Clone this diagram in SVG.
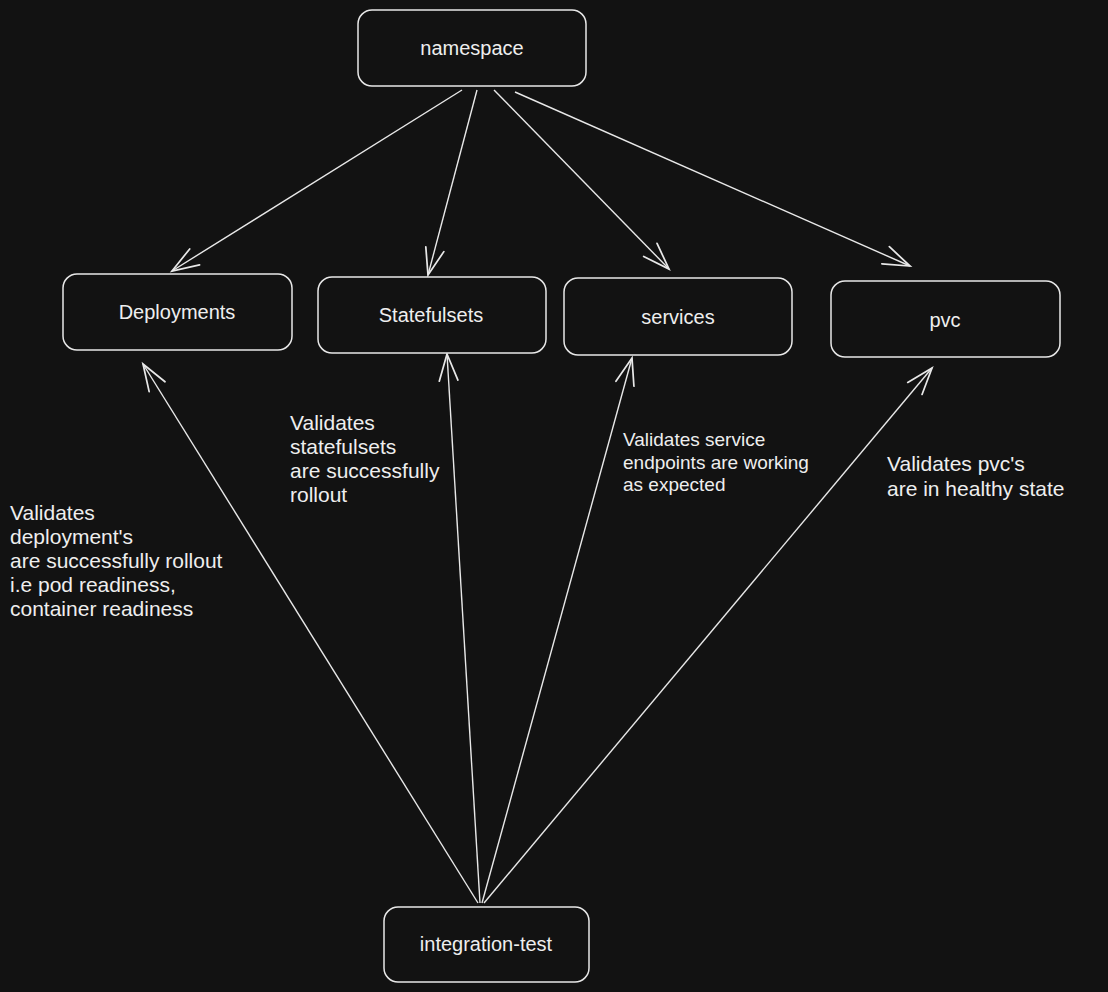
<svg xmlns="http://www.w3.org/2000/svg" width="1108" height="992" viewBox="0 0 1108 992">
<defs>
<marker id="ah" markerUnits="userSpaceOnUse" markerWidth="40" markerHeight="40" refX="0" refY="0" viewBox="-25 -15 30 30" orient="auto" overflow="visible">
<path d="M -20 -7 L 0 0 L -20 7" fill="none" stroke="#e8e8e8" stroke-width="1.3" stroke-linecap="round"/>
</marker>
</defs>
<style>
.box{fill:#121212;stroke:#e8e8e8;stroke-width:1.5}
.lbl{font-family:"Liberation Sans",Arial,sans-serif;font-size:20px;fill:#eeeeee;text-anchor:middle}
.note{font-family:"Liberation Sans",Arial,sans-serif;font-size:21px;fill:#eeeeee}
.c{stroke:#e8e8e8;stroke-width:1.4;fill:none;marker-end:url(#ah)}
</style>
<rect width="1108" height="992" fill="#121212"/>
<g id="connectors">
<line class="c" x1="462" y1="90" x2="172" y2="271"/>
<line class="c" x1="477" y1="90" x2="428" y2="275"/>
<line class="c" x1="494" y1="90" x2="669" y2="269"/>
<line class="c" x1="515" y1="92" x2="910" y2="266"/>
<line class="c" x1="478" y1="903" x2="143" y2="364"/>
<line class="c" x1="480" y1="903" x2="447" y2="354"/>
<line class="c" x1="482" y1="903" x2="632" y2="358"/>
<line class="c" x1="484" y1="903" x2="932" y2="368"/>
</g>
<g id="namespace"><rect class="box" x="358" y="10" width="228" height="76" rx="14"/><text class="lbl" x="472" y="55">namespace</text></g>
<g id="deployments"><rect class="box" x="63" y="274" width="229" height="76" rx="14"/><text class="lbl" x="177" y="319">Deployments</text></g>
<g id="statefulsets"><rect class="box" x="318" y="277" width="228" height="76" rx="14"/><text class="lbl" x="431" y="322">Statefulsets</text></g>
<g id="services"><rect class="box" x="564" y="278" width="228" height="77" rx="14"/><text class="lbl" x="678" y="324">services</text></g>
<g id="pvc"><rect class="box" x="831" y="281" width="229" height="76" rx="14"/><text class="lbl" x="945" y="327">pvc</text></g>
<g id="integration-test"><rect class="box" x="384" y="907" width="205" height="75" rx="14"/><text class="lbl" x="486" y="951">integration-test</text></g>
<g id="notes">
<text class="note" x="10" y="520">Validates</text>
<text class="note" x="10" y="544">deployment's</text>
<text class="note" x="10" y="568">are successfully rollout</text>
<text class="note" x="10" y="592">i.e pod readiness,</text>
<text class="note" x="10" y="616">container readiness</text>
<text class="note" x="290" y="430">Validates</text>
<text class="note" x="290" y="454">statefulsets</text>
<text class="note" x="290" y="478">are successfully</text>
<text class="note" x="290" y="502">rollout</text>
<text class="note" x="623" y="446" style="font-size:19px">Validates service</text>
<text class="note" x="623" y="469" style="font-size:19px">endpoints are working</text>
<text class="note" x="623" y="491" style="font-size:19px">as expected</text>
<text class="note" x="887" y="471">Validates pvc's</text>
<text class="note" x="887" y="496">are in healthy state</text>
</g>
</svg>
